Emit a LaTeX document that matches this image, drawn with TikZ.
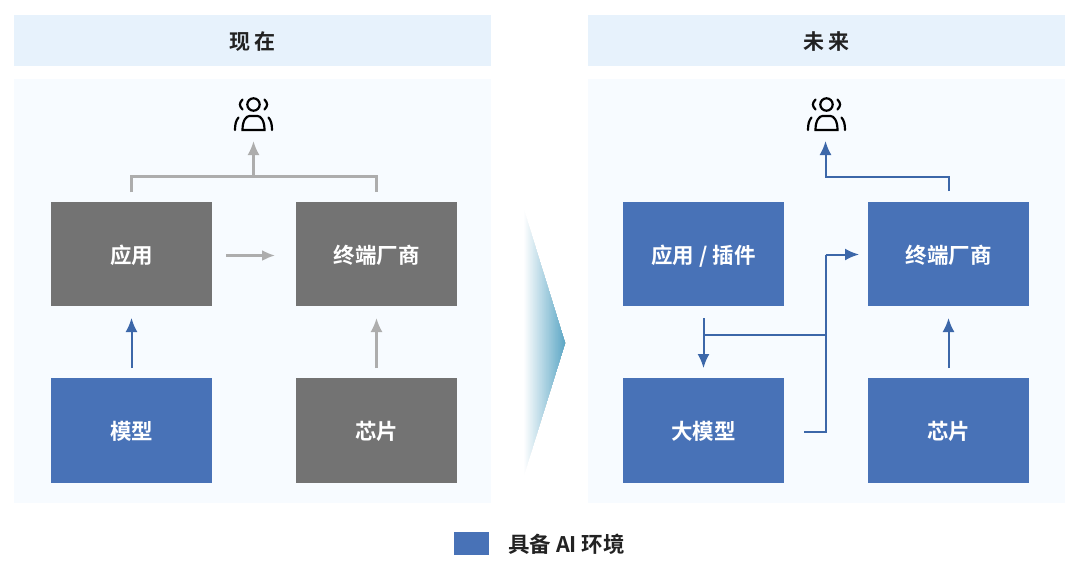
\documentclass[tikz,border=0pt]{standalone}
\usepackage{fontspec}
\setmainfont{Noto Sans CJK SC}[BoldFont={Noto Sans CJK SC Bold}]
\usetikzlibrary{arrows.meta}
\definecolor{headc}{HTML}{E7F2FC}
\definecolor{panelc}{HTML}{F7FBFF}
\definecolor{bluec}{HTML}{4872B7}
\definecolor{linec}{HTML}{3C67A9}
\definecolor{greyc}{HTML}{737373}
\definecolor{glinec}{HTML}{ADADAD}
\definecolor{triac}{HTML}{5FA8C6}
\definecolor{inkc}{HTML}{222222}
\tikzset{
  x=1pt,y=-1pt,
  headbox/.style={fill=headc,draw=none,minimum width=477pt,minimum height=51pt,inner sep=0pt,font=\fontsize{21}{23}\bfseries\selectfont,text=inkc},
  panelbox/.style={fill=panelc,draw=none,minimum width=477pt,minimum height=424pt,inner sep=0pt},
  cardbox/.style={draw=none,minimum width=161pt,minimum height=104.5pt,inner sep=0pt,text=white,font=\fontsize{21.5}{23}\bfseries\selectfont},
  bluebox/.style={cardbox,fill=bluec},
  greybox/.style={cardbox,fill=greyc},
  glink/.style={draw=glinec,line width=2.2pt},
  blink/.style={draw=linec,line width=2pt},
  garrow/.style={glink,-{Latex[length=14pt,width=12pt]}},
  barrow/.style={blink,-{Latex[length=14pt,width=12pt]}},
  iconline/.style={draw=black,line width=2.2pt,line cap=round,fill=none},
}
\newcommand{\lift}[1]{\raisebox{-9.2pt}[0pt][0pt]{#1}}
\newcommand{\usericon}[2]{%
  \begin{scope}[shift={(#1,#2)}]
    \draw[iconline] (0,-10.5) circle[radius=6.2];
    \draw[iconline] (-11,-15.5) .. controls (-14.5,-11.5) and (-14.5,-9.5) .. (-11,-5.5);
    \draw[iconline] (11,-15.5) .. controls (14.5,-11.5) and (14.5,-9.5) .. (11,-5.5);
    \draw[iconline] (-11,15) .. controls (-11,5) and (-7,1) .. (-4,1) -- (4,1) .. controls (7,1) and (11,5) .. (11,15) -- cycle;
    \draw[iconline] (-18.5,15) .. controls (-18.5,9) and (-17.5,5.5) .. (-15,2.5);
    \draw[iconline] (18.5,15) .. controls (18.5,9) and (17.5,5.5) .. (15,2.5);
  \end{scope}}
\begin{document}
\begin{tikzpicture}
\useasboundingbox (0,0) rectangle (1080,571);
\fill[white] (0,0) rectangle (1080,571);
% headers and panels
\node[headbox] (hl) at (252.5,40.5) {\raisebox{-8.5pt}[0pt][0pt]{现 在}};
\node[headbox] (hr) at (826.5,40.5) {\raisebox{-8.5pt}[0pt][0pt]{未 来}};
\node[panelbox] (pl) at (252.5,291) {};
\node[panelbox] (pr) at (826.5,291) {};
% centre arrow: overlapping steps from white to blue-green
\foreach \i in {0,...,41}{
  \pgfmathsetmacro{\xs}{523+\i}
  \pgfmathsetmacro{\yt}{207+\i*136/42}
  \pgfmathsetmacro{\yb}{478-\i*135/42}
  \pgfmathtruncatemacro{\pc}{\i*100/41}
  \fill[triac!\pc!white] (\xs,\yt) -- (565,343) -- (\xs,\yb) -- cycle;
}
% left boxes
\node[greybox] (app) at (131.5,254) {\lift{应用}};
\node[greybox] (oem) at (376.5,254) {\lift{终端厂商}};
\node[bluebox] (model) at (131.5,430.5) {\lift{模型}};
\node[greybox] (chip) at (376.5,430.5) {\lift{芯片}};
% right boxes
\node[bluebox] (rapp) at (703.5,254) {\lift{应用 / 插件}};
\node[bluebox] (roem) at (948.5,254) {\lift{终端厂商}};
\node[bluebox] (rmodel) at (703.5,430.5) {\lift{大模型}};
\node[bluebox] (rchip) at (948.5,430.5) {\lift{芯片}};
% icons
\usericon{253.5}{115}
\usericon{826.5}{115}
\coordinate (uL) at (253.5,141);
\coordinate (uR) at (825.5,141);
% left connectors
\coordinate (bkL) at (131.5,176.5);
\coordinate (bkR) at (376.5,176.5);
\coordinate (bkM) at (253.5,176.5);
\draw[glink] (131.5,192) -- (bkL) -- (bkR) -- (376.5,192);
\draw[garrow] (bkM) -- (uL);
\coordinate (hA) at (226,255.5);
\coordinate (hB) at (275,255.5);
\draw[glink,-{Latex[length=13pt,width=11pt]}] (hA) -- (hB);
\coordinate (mA) at (131.5,368);
\coordinate (mB) at (131.5,318);
\draw[barrow] (mA) -- (mB);
\coordinate (cA) at (376.5,368);
\coordinate (cB) at (376.5,318);
\draw[garrow] (cA) -- (cB);
% right connectors
\coordinate (rtA) at (948.5,191);
\coordinate (rtB) at (948.5,176.5);
\coordinate (rtC) at (825.5,176.5);
\draw[blink,-{Latex[length=14pt,width=12pt]}] (rtA) -- (rtB) -- (rtC) -- (uR);
\coordinate (rcA) at (948.5,368);
\coordinate (rcB) at (948.5,318);
\draw[barrow] (rcA) -- (rcB);
\coordinate (dA) at (703.5,318);
\coordinate (dB) at (703.5,368);
\draw[barrow] (dA) -- (dB);
\coordinate (jL) at (703.5,334.5);
\coordinate (jR) at (827,334.5);
\draw[blink] (jL) -- (jR);
\coordinate (vT) at (825.5,254.5);
\coordinate (vB) at (825.5,431.5);
\coordinate (lA) at (804,431.5);
\coordinate (lB) at (827,431.5);
\draw[blink] (vT) -- (vB);
\draw[blink] (lA) -- (lB);
\draw[barrow] (vT) -- (859,254.5);
% legend
\node[fill=bluec,minimum width=35pt,minimum height=23pt,inner sep=0pt] (lg) at (471.5,543.5) {};
\node[anchor=west,inner sep=0pt,font=\fontsize{21.5}{23}\bfseries\selectfont,text=inkc] (lgt) at (508,544.5) {具备 AI 环境};
\end{tikzpicture}
\end{document}
